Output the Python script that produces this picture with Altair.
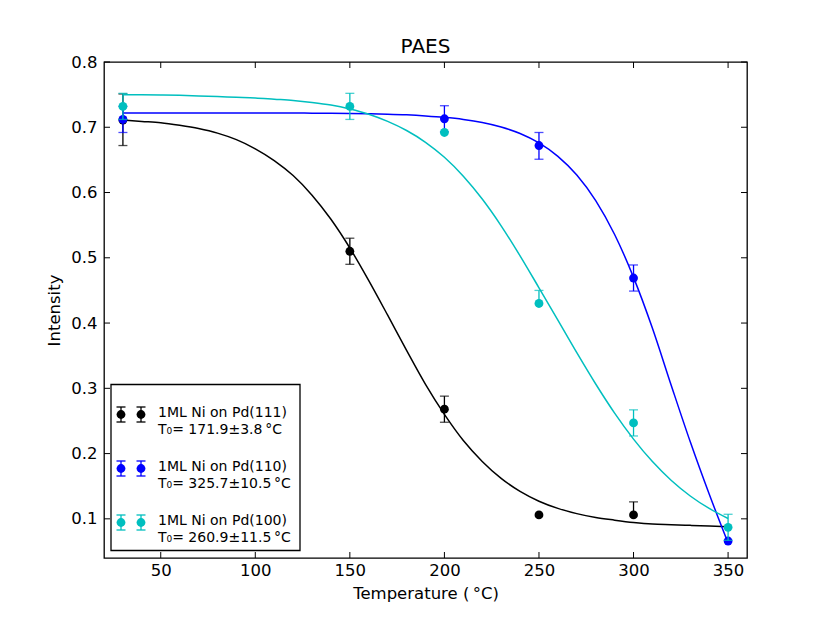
import altair as alt
import pandas as pd

# ---------------- data ----------------
# measured points
black_T = [30, 150, 200, 250, 300]
black_I = [0.711, 0.510, 0.268, 0.106, 0.106]
black_elo = [0.039, 0.020, 0.020, 0.0, 0.0]
black_ehi = [0.040, 0.020, 0.020, 0.0, 0.020]

blue_T = [30, 200, 250, 300, 350]
blue_I = [0.712, 0.713, 0.672, 0.469, 0.066]
blue_elo = [0.020, 0.020, 0.021, 0.020, 0.0]
blue_ehi = [0.020, 0.020, 0.020, 0.020, 0.0]

cyan_T = [30, 150, 200, 250, 300, 350]
cyan_I = [0.732, 0.732, 0.692, 0.430, 0.247, 0.087]
cyan_elo = [0.020, 0.020, 0.0, 0.0, 0.020, 0.020]
cyan_ehi = [0.020, 0.020, 0.0, 0.020, 0.020, 0.020]

# fitted curves
fit_T = [30, 40, 50, 60, 70, 80, 90, 100, 110, 120, 130, 140, 150, 160, 170,
         180, 190, 200, 210, 220, 230, 240, 250, 260, 270, 280, 290, 300, 310,
         320, 330, 340, 350]
black_fit = [0.711, 0.709, 0.707, 0.703, 0.698, 0.691, 0.681, 0.667, 0.649,
             0.626, 0.596, 0.559, 0.515, 0.465, 0.412, 0.358, 0.306, 0.260,
             0.220, 0.188, 0.162, 0.142, 0.127, 0.116, 0.108, 0.102, 0.098,
             0.0945, 0.092, 0.091, 0.090, 0.089, 0.088]
blue_fit = [0.722, 0.722, 0.722, 0.722, 0.722, 0.722, 0.722, 0.722, 0.722,
            0.722, 0.7215, 0.7213, 0.721, 0.7206, 0.720, 0.719, 0.7174, 0.7152,
            0.712, 0.7073, 0.7004, 0.6904, 0.676, 0.6554, 0.6268, 0.5876,
            0.5357, 0.470, 0.392, 0.304, 0.218, 0.138, 0.063]
cyan_fit = [0.750, 0.7498, 0.7495, 0.749, 0.748, 0.747, 0.746, 0.745, 0.743,
            0.741, 0.738, 0.734, 0.728, 0.720, 0.709, 0.695, 0.677, 0.654,
            0.625, 0.590, 0.549, 0.503, 0.454, 0.4045, 0.3546, 0.3066, 0.262,
            0.2222, 0.1877, 0.1587, 0.135, 0.1159, 0.1005]

series_names = ["1ML Ni on Pd(111)", "1ML Ni on Pd(110)", "1ML Ni on Pd(100)"]
series_t0 = ["T\u2080= 171.9\u00b13.8\u2009\u00b0C",
             "T\u2080= 325.7\u00b110.5\u2009\u00b0C",
             "T\u2080= 260.9\u00b111.5\u2009\u00b0C"]
series_colors = ["#000000", "#0000ff", "#00bfbf"]

x_ticks = [50, 100, 150, 200, 250, 300, 350]
y_ticks = [0.1, 0.2, 0.3, 0.4, 0.5, 0.6, 0.7, 0.8]
x_domain = [20, 360]
y_domain = [0.04, 0.8]

# ---------------- chart ----------------
W, H = 643, 496
FONT = "DejaVu Sans"

xs = alt.Scale(domain=x_domain, nice=False, zero=False)
ys = alt.Scale(domain=y_domain, nice=False, zero=False)
xaxis = alt.Axis(title="Temperature (\u2009\u00b0C)", values=x_ticks, grid=False,
                 domain=False, ticks=False, labelPadding=4, labelFontSize=16.5,
                 labelFont=FONT, labelColor="black", titleFont=FONT,
                 titleFontSize=16.5, titleFontWeight="normal", titleColor="black",
                 titlePadding=7)
yaxis = alt.Axis(title="Intensity", values=y_ticks, format=".1f", grid=False,
                 domain=False, ticks=False, labelPadding=7, labelFontSize=16.5,
                 labelFont=FONT, labelColor="black", titleFont=FONT,
                 titleFontSize=16.5, titleFontWeight="normal", titleColor="black",
                 titlePadding=8)


def X(field):
    return alt.X(f"{field}:Q", scale=xs, axis=xaxis)


def Y(field):
    return alt.Y(f"{field}:Q", scale=ys, axis=yaxis)


layers = []
series = [
    (black_T, black_I, black_elo, black_ehi, black_fit),
    (blue_T, blue_I, blue_elo, blue_ehi, blue_fit),
    (cyan_T, cyan_I, cyan_elo, cyan_ehi, cyan_fit),
]
for (T, I, elo, ehi, fit), col in zip(series, series_colors):
    fdf = pd.DataFrame({"T": fit_T, "I": fit})
    layers.append(
        alt.Chart(fdf).mark_line(color=col, strokeWidth=1.5, interpolate="monotone")
        .encode(x=X("T"), y=Y("I"))
    )
    pdf = pd.DataFrame({"T": T, "I": I, "elo": elo, "ehi": ehi})
    pdf["lo"] = pdf["I"] - pdf["elo"]
    pdf["hi"] = pdf["I"] + pdf["ehi"]
    lo_df = pdf[pdf["elo"] > 0]
    hi_df = pdf[pdf["ehi"] > 0]
    layers.append(
        alt.Chart(lo_df).mark_rule(color=col, strokeWidth=1.3)
        .encode(x=X("T"), y=Y("lo"), y2="I")
    )
    layers.append(
        alt.Chart(hi_df).mark_rule(color=col, strokeWidth=1.3)
        .encode(x=X("T"), y=Y("I"), y2="hi")
    )
    layers.append(
        alt.Chart(lo_df).mark_tick(color=col, orient="horizontal", size=9, thickness=1.3)
        .encode(x=X("T"), y=Y("lo"))
    )
    layers.append(
        alt.Chart(hi_df).mark_tick(color=col, orient="horizontal", size=9, thickness=1.3)
        .encode(x=X("T"), y=Y("hi"))
    )
    layers.append(
        alt.Chart(pdf).mark_circle(color=col, opacity=1, size=78)
        .encode(x=X("T"), y=Y("I"))
    )

# inward ticks on all four sides
xt = pd.DataFrame({"t": x_ticks})
yt = pd.DataFrame({"t": y_ticks})
TL = 6
layers.append(alt.Chart(xt).mark_rule(color="black", strokeWidth=1)
              .encode(x=X("t"), y=alt.value(H), y2=alt.value(H - TL)))
layers.append(alt.Chart(xt).mark_rule(color="black", strokeWidth=1)
              .encode(x=X("t"), y=alt.value(0), y2=alt.value(TL)))
layers.append(alt.Chart(yt).mark_rule(color="black", strokeWidth=1)
              .encode(y=Y("t"), x=alt.value(0), x2=alt.value(TL)))
layers.append(alt.Chart(yt).mark_rule(color="black", strokeWidth=1)
              .encode(y=Y("t"), x=alt.value(W), x2=alt.value(W - TL)))

# legend box
one = alt.Data(values=[{"a": 1}])
layers.append(
    alt.Chart(one).mark_rect(fill="white", stroke="black", strokeWidth=1.3)
    .encode(x=alt.value(7), x2=alt.value(196), y=alt.value(322.5), y2=alt.value(488.5))
)
for i, (name, t0, col) in enumerate(zip(series_names, series_t0, series_colors)):
    ym = 352.5 + i * 54
    for xm in (17, 37):
        layers.append(alt.Chart(one).mark_rule(color=col, strokeWidth=1.3)
                      .encode(x=alt.value(xm), y=alt.value(ym - 7.5), y2=alt.value(ym + 7.5)))
        layers.append(alt.Chart(one).mark_rule(color=col, strokeWidth=1.3)
                      .encode(x=alt.value(xm - 4.5), x2=alt.value(xm + 4.5), y=alt.value(ym - 7.5)))
        layers.append(alt.Chart(one).mark_rule(color=col, strokeWidth=1.3)
                      .encode(x=alt.value(xm - 4.5), x2=alt.value(xm + 4.5), y=alt.value(ym + 7.5)))
        layers.append(alt.Chart(one).mark_circle(color=col, opacity=1, size=78)
                      .encode(x=alt.value(xm), y=alt.value(ym)))
    layers.append(
        alt.Chart(alt.Data(values=[{"txt": name}])).mark_text(
            align="left", baseline="middle", font=FONT, fontSize=14, color="black")
        .encode(x=alt.value(54), y=alt.value(ym - 1.5), text="txt:N")
    )
    layers.append(
        alt.Chart(alt.Data(values=[{"txt": t0}])).mark_text(
            align="left", baseline="middle", font=FONT, fontSize=14, color="black")
        .encode(x=alt.value(54), y=alt.value(ym + 15.5), text="txt:N")
    )

chart = alt.layer(*layers).properties(
    width=W, height=H,
    background="white",
    title=alt.Title("PAES", fontSize=20, font=FONT, fontWeight="normal",
                    color="black", offset=-3),
    autosize=alt.AutoSizeParams(type="none"),
    padding={"left": 96, "top": 54, "right": 40, "bottom": 50},
).configure_view(stroke="black", strokeWidth=1.3)

chart.save("out.html", embed_options={"renderer": "svg", "actions": False})
